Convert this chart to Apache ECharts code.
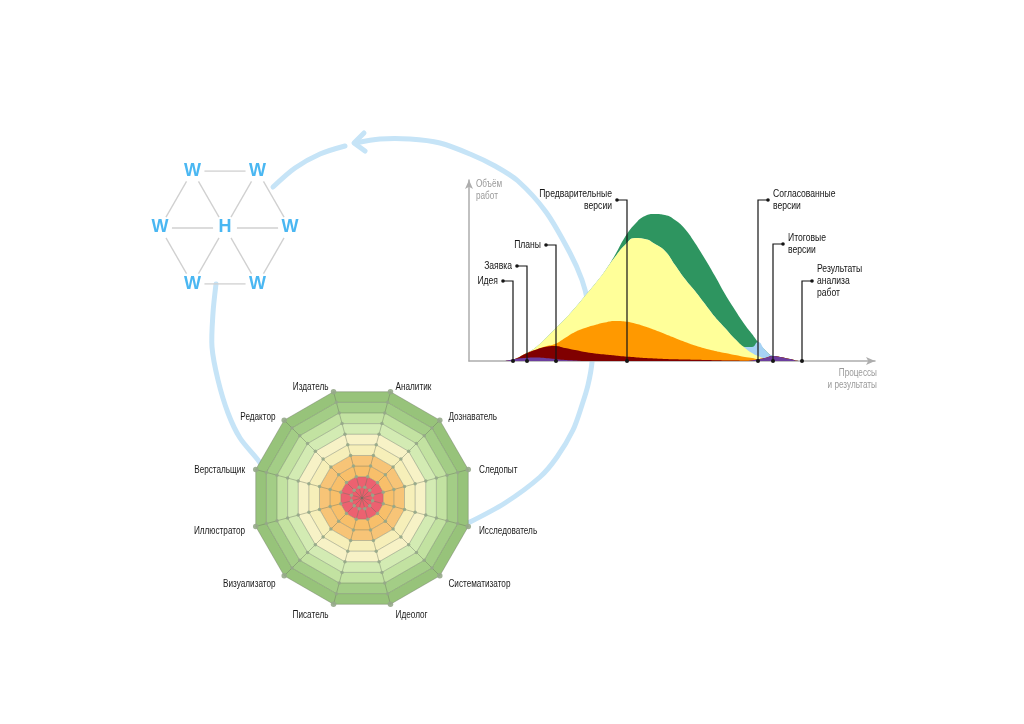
<!DOCTYPE html>
<html>
<head>
<meta charset="utf-8">
<style>
html,body{margin:0;padding:0;background:#ffffff;}
#chart{width:1024px;height:724px;}
</style>
<script src="https://cdn.jsdelivr.net/npm/echarts@6/dist/echarts.min.js"></script>
</head>
<body>
<div id="chart"></div>
<script>
// ================= DATA =================
// --- Area chart: work volume along the process (layer thickness, bottom to top) ---
const stageX = [36,46,56,66,76,86,96,106,116,126,136,146,156,166,176,186,196,206,216,226,236,246,256,266,276,283,289,296,304,311,321,331,341];
const ideaVals     = [0,2,3,3.5,3,2,1,0.5,0,0,0,0,0,0,0,0,0,0,0,0,0,0,0,0,0,0.5,1.5,3,5,4,2,0,0];
const planVals     = [0,0,4,7.5,11,13,12,10.5,9,7.5,6.5,5.5,4.5,3.8,3,2.5,2,1.7,1.4,1.2,1,0.8,0.6,0.4,0.2,0,0,0,0,0,0,0,0];
const draftVals    = [0,0,0,0,0.5,2,10,18,24,28.5,32,34.5,35,33.7,31.5,28.5,25,21.3,17.6,14.3,11.5,9.2,7.4,5.6,3.8,2.5,0.5,0,0,0,0,0,0];
const prelimVals   = [0,0,0,2,7.5,15,19,24,32,41,51.5,64,76.5,85.5,87.5,86,83,73,63,54.5,44.5,34,25,16,9,5,3,0,0,0,0,0,0];
const finalVals    = [0,0,0,0,0,0,0,0,0,0,0,0,0,0,0,0,0,0,0,0,0,0,0,0,1,6,14,8,0,0,0,0,0];
const agreedVals   = [0,0,0,0,0,0,0,0,0,0,0,2,8,14,23,30,36,45,50,48,45,41,34,29,22,13,0,0,0,0,0,0,0];

const milestoneNames  = ['Идея','Заявка','Планы','Предварительные\nверсии','Согласованные\nверсии','Итоговые\nверсии','Результаты\nанализа\nработ'];
const milestoneX      = [44,58,87,158,289,304,333];
const milestoneLabelY = [80,95,116,161,161,117,80];

const yAxisName = 'Объём\nработ';
const xAxisName = 'Процессы\nи результаты';

// --- Radar: roles ---
const roles = ['Аналитик','Издатель','Редактор','Верстальщик','Иллюстратор','Визуализатор','Писатель','Идеолог','Систематизатор','Исследователь','Следопыт','Дознаватель'];
const ringLevels = [1,2,3,4,5,6,7,8,9,10];

// --- Hexagon: W / H network ---
const hexLabels = ['W','W','W','H','W','W','W'];
const hexX = [-1,1,-2,0,2,-1,1];
const hexY = [1.73,1.73,0,0,0,-1.73,-1.73];
const hexLinks = [[0,1],[0,2],[0,3],[1,3],[1,4],[2,3],[3,4],[2,5],[3,5],[3,6],[4,6],[5,6]];

// ================= CHART =================
const FONT = "'Liberation Sans',Arial,sans-serif";
const NARROW = 0.78;
const layerColors = ['#6c3e9e','#800000','#ff9900','#ffff99','#a6d2f5','#2e9560'];
const layers = [ideaVals, planVals, draftVals, prelimVals, finalVals, agreedVals];

// cumulative tops of each layer
const cumulative = layers.map((_, k) => stageX.map((__, i) => {
  let s = 0; for (let j = 0; j <= k; j++) s += layers[j][i]; return s;
}));
const totals = cumulative[cumulative.length - 1];
const peakX = stageX[totals.indexOf(Math.max(...totals))];
const maxLevel = ringLevels[ringLevels.length - 1];

// draw from the top layer (back) to the bottom layer (front)
const areaSeries = [];
for (let k = layers.length - 1; k >= 0; k--) {
  areaSeries.push({
    type: 'line',
    xAxisIndex: 0, yAxisIndex: 0,
    smooth: 0.5,
    showSymbol: false,
    symbol: 'none',
    silent: true,
    lineStyle: { width: 0 },
    areaStyle: { color: layerColors[k], opacity: 1 },
    data: stageX.map((x, i) => [x, cumulative[k][i]]),
    z: 3
  });
}

const leaderSeries = {
  type: 'custom',
  xAxisIndex: 0, yAxisIndex: 0,
  clip: false,
  silent: true,
  z: 5,
  data: milestoneX.map((x, i) => [x, milestoneLabelY[i]]),
  renderItem: function (params, api) {
    const x = api.value(0), ly = api.value(1);
    const base = api.coord([x, 0]);
    const top = api.coord([x, ly]);
    const dir = x < peakX ? -1 : 1;
    const tickEnd = [top[0] + dir * 10, top[1]];
    return {
      type: 'group',
      children: [
        { type: 'polyline', shape: { points: [base, top, tickEnd] }, style: { stroke: '#151515', lineWidth: 1.2, fill: null } },
        { type: 'circle', shape: { cx: base[0], cy: base[1], r: 2 }, style: { fill: '#151515' } },
        { type: 'circle', shape: { cx: tickEnd[0], cy: tickEnd[1], r: 1.8 }, style: { fill: '#151515' } },
        { type: 'text', x: tickEnd[0] + dir * 5, y: tickEnd[1], scaleX: NARROW,
          style: {
            text: milestoneNames[params.dataIndex], x: 0, y: 0,
            align: dir < 0 ? 'right' : 'left', verticalAlign: 'middle',
            fill: '#151515', fontSize: 11, fontFamily: FONT, lineHeight: 12 } }
      ]
    };
  }
};

const ringColors = ['#ec5e6c','#ec6170','#f8bf6a','#f7c477','#f6efb9','#f7f2c6','#d3ebb3','#c2e2a1','#a3cd86','#97c37a'];

const radarDots = {
  type: 'radar',
  radarIndex: 0,
  silent: true,
  z: 6,
  symbol: 'circle',
  lineStyle: { width: 0, opacity: 0 },
  itemStyle: { color: 'rgba(150,168,138,0.9)' },
  data: ringLevels.map(lv => ({
    value: roles.map(() => lv),
    symbolSize: lv === maxLevel ? 5.5 : 3.5
  }))
};

// role names around the radar (polar twin of the radar, same centre / radius / start angle)
const roleLabels = {
  type: 'custom',
  coordinateSystem: 'polar',
  polarIndex: 0,
  silent: true,
  clip: false,
  z: 7,
  data: roles.map(r => [maxLevel, r]),
  renderItem: function (params, api) {
    const p = api.coord([api.value(0), api.value(1)]);
    const c = api.coord([0, api.value(1)]);
    let ux = p[0] - c[0], uy = p[1] - c[1];
    const len = Math.hypot(ux, uy) || 1; ux /= len; uy /= len;
    const ax = p[0] + ux * 8 + Math.sign(ux) * 3;
    const ay = p[1] + uy * 8 + 3;
    return {
      type: 'text', x: ax, y: ay, scaleX: NARROW,
      style: { text: roles[params.dataIndex], x: 0, y: 0,
        align: ux > 0.05 ? 'left' : (ux < -0.05 ? 'right' : 'center'), verticalAlign: 'middle',
        fill: '#1a1a1a', fontSize: 10.5, fontFamily: FONT }
    };
  }
};

const hexEdges = {
  type: 'lines',
  coordinateSystem: 'cartesian2d',
  xAxisIndex: 1, yAxisIndex: 1,
  silent: true,
  z: 2,
  lineStyle: { color: '#d0d0d0', width: 1.5, opacity: 1, curveness: 0 },
  data: hexLinks.map(l => ({ coords: [[hexX[l[0]], hexY[l[0]]], [hexX[l[1]], hexY[l[1]]]] }))
};

const hexNodes = {
  type: 'scatter',
  xAxisIndex: 1, yAxisIndex: 1,
  silent: true,
  z: 3,
  symbol: 'circle',
  symbolSize: 24,
  itemStyle: { color: '#ffffff', opacity: 1 },
  label: { show: true, position: 'inside', formatter: p => p.value[2], color: '#4ab7f2', fontSize: 18, fontWeight: 'bold', fontFamily: FONT },
  data: hexLabels.map((n, i) => [hexX[i], hexY[i], n])
};

const ARC = '#c6e4f7';
const rightArc = [[355,143],[380,139],[410,139],[440,143],[470,154],[495,166],[518,181],[546,212],[570,253],[582,280],[588,303],[592,335],[592,362],[588,385],[582,405],[573,430],[557,457],[540,477],[505,503],[470,522]];
const leftArcLow = [[266,472],[258,460],[240,438],[228,413],[218,380],[212,347],[213,313],[216,284]];
const leftArcHigh = [[273,187],[295,168],[320,154],[345,146]];

const hiddenAxis = { show: false };
const axisNameStyle = { fill: '#9a9a9a', fontSize: 10.5, lineHeight: 12, fontFamily: FONT };

const option = {
  backgroundColor: '#ffffff',
  animation: false,
  graphic: {
    z: -10,
    elements: [
      { type: 'polyline', z: -10, silent: true, shape: { points: rightArc, smooth: 0.3 }, style: { stroke: ARC, lineWidth: 5, fill: null, lineCap: 'round' } },
      { type: 'polyline', z: -10, silent: true, shape: { points: leftArcLow, smooth: 0.3 }, style: { stroke: ARC, lineWidth: 5, fill: null, lineCap: 'round' } },
      { type: 'polyline', z: -10, silent: true, shape: { points: leftArcHigh, smooth: 0.3 }, style: { stroke: ARC, lineWidth: 5, fill: null, lineCap: 'round' } },
      { type: 'polyline', z: -10, silent: true, shape: { points: [[364,133],[354,143],[365,151]] }, style: { stroke: ARC, lineWidth: 5, fill: null, lineCap: 'round', lineJoin: 'round' } },
      { type: 'text', z: 10, silent: true, x: 476, y: 178, scaleX: NARROW, style: Object.assign({ text: yAxisName, align: 'left', verticalAlign: 'top' }, axisNameStyle) },
      { type: 'text', z: 10, silent: true, x: 877, y: 367, scaleX: NARROW, style: Object.assign({ text: xAxisName, align: 'right', verticalAlign: 'top' }, axisNameStyle) }
    ]
  },
  grid: [
    { left: 469, top: 180, width: 406, height: 181, containLabel: false },
    { left: 160, top: 171, width: 130, height: 113, containLabel: false }
  ],
  polar: { center: [362, 498], radius: 110 },
  angleAxis: { type: 'category', data: roles, boundaryGap: false, startAngle: 75, clockwise: false, show: false },
  radiusAxis: { type: 'value', min: 0, max: maxLevel, show: false },
  xAxis: [{
    type: 'value', min: 0, max: 406, gridIndex: 0,
    axisLine: { show: true, symbol: ['none', 'arrow'], symbolSize: [6, 9], lineStyle: { color: '#adadad', width: 1.5 } },
    axisTick: { show: false }, axisLabel: { show: false }, splitLine: { show: false }
  }, {
    type: 'value', min: -2, max: 2, gridIndex: 1,
    axisLine: hiddenAxis, axisTick: hiddenAxis, axisLabel: hiddenAxis, splitLine: hiddenAxis
  }],
  yAxis: [{
    type: 'value', min: 0, max: 181, gridIndex: 0,
    axisLine: { show: true, symbol: ['none', 'arrow'], symbolSize: [6, 9], lineStyle: { color: '#adadad', width: 1.5 } },
    axisTick: { show: false }, axisLabel: { show: false }, splitLine: { show: false }
  }, {
    type: 'value', min: -1.73, max: 1.73, gridIndex: 1,
    axisLine: hiddenAxis, axisTick: hiddenAxis, axisLabel: hiddenAxis, splitLine: hiddenAxis
  }],
  radar: {
    center: [362, 498],
    radius: 110,
    startAngle: 75,
    shape: 'polygon',
    splitNumber: 10,
    z: 4,
    indicator: roles.map(r => ({ name: r, min: 0, max: maxLevel })),
    axisName: { show: false },
    splitArea: { show: true, areaStyle: { color: ringColors, opacity: 1 } },
    splitLine: { show: true, lineStyle: { color: 'rgba(105,115,95,0.42)', width: 1 } },
    axisLine: { show: true, lineStyle: { color: 'rgba(105,115,95,0.42)', width: 1 } },
    axisTick: { show: false },
    axisLabel: { show: false }
  },
  series: [...areaSeries, leaderSeries, radarDots, roleLabels, hexEdges, hexNodes]
};

const chart = echarts.init(document.getElementById('chart'), null, { renderer: 'canvas' });
chart.setOption(option);
</script>
</body>
</html>
